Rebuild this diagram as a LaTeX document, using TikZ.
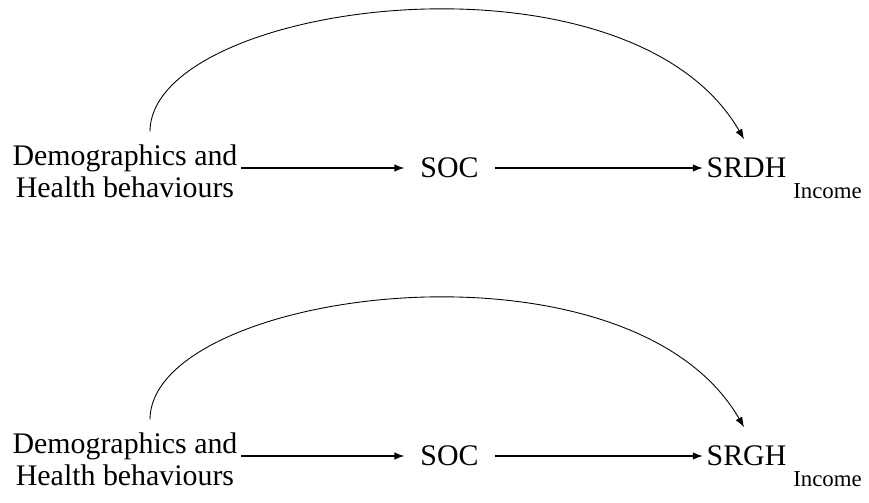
\documentclass[tikz,border=0pt]{standalone}
\usepackage{fontspec}
\setmainfont{Liberation Serif}
\usetikzlibrary{arrows.meta}

\begin{document}
\begin{tikzpicture}[x=1cm, y=1cm,
  lbl/.style={inner sep=2pt, font=\fontsize{17}{18.1}\selectfont},
  mid/.style={lbl, inner xsep=9pt},
  sub/.style={inner sep=1pt, font=\fontsize{13}{15}\selectfont},
  arr/.style={line width=0.6pt, -{Latex[length=2mm, width=1.5mm]}},
  bow/.style={line width=0.5pt, -{Latex[length=2mm, width=1.5mm]}, out=90, in=120, out looseness=0.56, in looseness=1}]
\useasboundingbox (0,0) rectangle (17.38,10.04);
% top panel
\node[lbl, align=center] (demoA) at (2.5,6.62) {Demographics and\\Health behaviours};
\node[mid] (socA) at (8.99,6.68) {SOC};
\node[lbl] (srdh) at (14.93,6.68) {SRDH};
\node[sub] (incA) at (16.55,6.22) {Income};
\draw[arr] (demoA.east |- socA.west) -- (socA.west);
\draw[arr] (socA.east) -- (srdh.west);
\draw[bow] ([xshift=0.5cm, yshift=0.18cm]demoA.north) to ([xshift=-0.05cm, yshift=0.3cm]srdh.north);
% bottom panel
\node[lbl, align=center] (demoB) at (2.5,0.86) {Demographics and\\Health behaviours};
\node[mid] (socB) at (8.99,0.92) {SOC};
\node[lbl] (srgh) at (14.93,0.92) {SRGH};
\node[sub] (incB) at (16.55,0.46) {Income};
\draw[arr] (demoB.east |- socB.west) -- (socB.west);
\draw[arr] (socB.east) -- (srgh.west);
\draw[bow] ([xshift=0.5cm, yshift=0.18cm]demoB.north) to ([xshift=-0.05cm, yshift=0.3cm]srgh.north);
\end{tikzpicture}
\end{document}
